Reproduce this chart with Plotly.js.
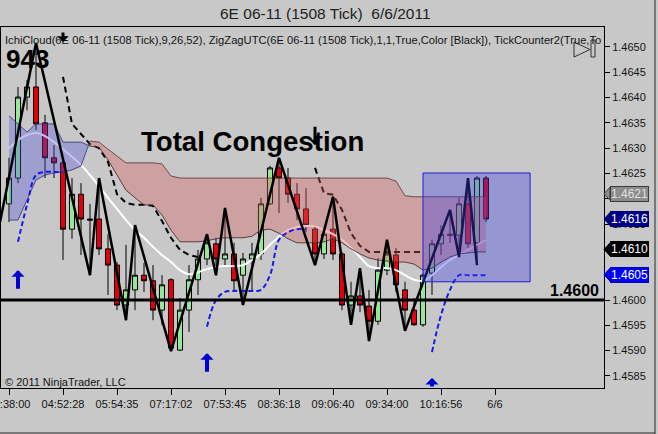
<!DOCTYPE html>
<html><head><meta charset="utf-8">
<script src="https://cdn.plot.ly/plotly-3.0.1.min.js"></script>
<style>html,body{margin:0;padding:0;background:rgb(200,200,200);} #chart{width:658px;height:434px;}</style>
</head><body><div id="chart"></div>
<script>
// ---------- data ----------
const bars = [1,2,3,4,5,6,7,8,9,10,11,12,13,14,15,16,17,18,19,20,21,22,23,24,25,26,27,28,29,30,31,32,33,34,35,36,37,38,39,40,41,42,43,44,45,46,47,48,49,50,51,52,53,54];
const tickBars = [1,7,13,19,25,31,37,43,49,55];
const tickLabels = ["04:38:00","04:52:28","05:54:35","07:17:02","07:53:45","08:36:18","09:06:40","09:34:00","10:16:56","6/6"];
const priceTicks = [1.4585,1.4590,1.4595,1.4600,1.4605,1.4610,1.4615,1.4620,1.4625,1.4630,1.4635,1.4640,1.4645,1.4650];
// tick labels hidden behind the price markers on the right
const priceTickLabels = ["1.4585","1.4590","1.4595","1.4600","","","1.4615","","1.4625","1.4630","1.4635","1.4640","1.4645","1.4650"];

const barOpen = [1.46190,1.46241,1.46401,1.46421,1.46350,1.46281,1.46271,1.46140,1.46209,1.46160,
 1.46160,1.46101,1.46069,1.45990,1.46020,1.46049,1.46038,1.45980,1.46040,1.45901,
 1.45980,1.46040,1.46081,1.46111,1.46081,1.46091,1.46049,1.46081,1.46091,1.46190,
 1.46261,1.46241,1.46209,1.46180,1.46140,1.46091,1.46140,1.46091,1.45990,1.46008,
 1.45988,1.45958,1.46059,1.46089,1.46020,1.45980,1.45951,1.46053,1.46111,1.46130,
 1.46128,1.46190,1.46113,1.46241];
const barHigh = [1.46281,1.46421,1.46435,1.46508,1.46366,1.46306,1.46277,1.46241,1.46231,1.46190,
 1.46241,1.46130,1.46075,1.46109,1.46148,1.46073,1.46069,1.46049,1.46043,1.46004,
 1.46069,1.46099,1.46130,1.46123,1.46182,1.46113,1.46093,1.46113,1.46202,1.46265,
 1.46281,1.46261,1.46231,1.46221,1.46148,1.46140,1.46204,1.46095,1.46036,1.46063,
 1.46020,1.46083,1.46119,1.46103,1.46036,1.46004,1.46053,1.46119,1.46148,1.46178,
 1.46202,1.46241,1.46245,1.46245];
const barLow = [1.46154,1.46231,1.46375,1.46336,1.46241,1.46241,1.46079,1.46121,1.46089,1.46049,
 1.46089,1.46010,1.45980,1.45960,1.45980,1.46016,1.45960,1.45951,1.45899,1.45899,
 1.45937,1.46010,1.46069,1.46049,1.46069,1.46016,1.45990,1.46016,1.46079,1.46188,
 1.46172,1.46192,1.46158,1.46134,1.46069,1.46081,1.46079,1.45980,1.45951,1.45976,
 1.45919,1.45951,1.46049,1.46016,1.45939,1.45949,1.45947,1.46010,1.46089,1.46113,
 1.46085,1.46103,1.46069,1.46154];
const barClose = [1.46241,1.46401,1.46421,1.46348,1.46281,1.46271,1.46140,1.46209,1.46160,1.46158,
 1.46101,1.46069,1.45990,1.46020,1.46049,1.46038,1.45980,1.46030,1.45905,1.45980,
 1.46040,1.46081,1.46113,1.46081,1.46091,1.46038,1.46081,1.46091,1.46190,1.46261,
 1.46241,1.46209,1.46180,1.46148,1.46091,1.46130,1.46091,1.45990,1.46008,1.45990,
 1.45958,1.46059,1.46091,1.46030,1.45980,1.45951,1.46049,1.46111,1.46130,1.46128,
 1.46190,1.46111,1.46241,1.46160];

const spanA = [1.46364,1.46348,1.46332,1.46348,1.46348,1.46348,1.46312,1.46312,1.46312,1.46304,
 1.46302,1.46277,1.46247,1.46217,1.46202,1.46188,1.46188,1.46168,1.46138,1.46115,
 1.46115,1.46115,1.46117,1.46121,1.46123,1.46123,1.46123,1.46126,1.46138,1.46140,
 1.46132,1.46121,1.46113,1.46113,1.46113,1.46115,1.46121,1.46113,1.46101,1.46091,
 1.46083,1.46079,1.46077,1.46075,1.46075,1.46071,1.46059,1.46063,1.46075,1.46085,
 1.46091,1.46093,1.46095,1.46095];
const spanB = [1.46158,1.46158,1.46198,1.46237,1.46247,1.46251,1.46253,1.46257,1.46265,1.46314,
 1.46312,1.46298,1.46285,1.46271,1.46271,1.46271,1.46271,1.46269,1.46245,1.46241,
 1.46241,1.46241,1.46241,1.46241,1.46241,1.46241,1.46241,1.46241,1.46241,1.46241,
 1.46241,1.46241,1.46241,1.46241,1.46241,1.46241,1.46241,1.46241,1.46241,1.46241,
 1.46241,1.46241,1.46241,1.46235,1.46206,1.46204,1.46204,1.46204,1.46204,1.46204,
 1.46204,1.46204,1.46204,1.46204];

const tenkan = [1.46300,1.46316,1.46326,1.46330,1.46324,1.46312,1.46298,1.46283,1.46267,1.46247,
 1.46225,1.46202,1.46180,1.46158,1.46138,1.46123,1.46105,1.46089,1.46075,1.46059,
 1.46051,1.46055,1.46061,1.46065,1.46067,1.46067,1.46069,1.46079,1.46091,1.46109,
 1.46125,1.46138,1.46144,1.46146,1.46146,1.46138,1.46130,1.46119,1.46103,1.46085,
 1.46067,1.46063,1.46063,1.46059,1.46049,1.46040,1.46038,1.46049,1.46065,1.46079,
 1.46089,1.46099,1.46109,1.46119];

const kijun = [null,null,null,null,null,null,1.46441,1.46348,1.46328,1.46308,
 1.46300,1.46273,1.46209,1.46192,1.46188,1.46188,1.46186,1.46156,1.46123,1.46099,
 1.46089,1.46085,null,null,null,null,null,null,null,null,
 null,null,null,null,1.46261,1.46211,1.46208,1.46178,1.46132,1.46107,
 1.46095,1.46095,1.46095,1.46095,1.46095,1.46095,1.46095,null,null,null,
 null,null,null,null];

const stopLine = [null,1.46115,1.46188,1.46247,1.46253,1.46253,1.46253,null,null,null,
 null,null,null,null,null,null,null,null,null,null,
 null,null,1.45947,1.46000,1.46016,1.46018,1.46018,1.46018,1.46020,1.46049,
 1.46119,1.46134,1.46140,1.46140,null,null,null,null,null,null,
 null,null,null,null,null,null,null,1.45897,1.45970,1.46020,
 1.46049,1.46049,1.46049,1.46049];

const zigBars = [0,4,10,11,14,15,19,23,24,25,27,31,35,37,39,40,41,43,45,50,51,52,53];
const zigVals = [1.46154,1.46508,1.46049,1.46241,1.45960,1.46148,1.45899,1.46130,1.46049,1.46182,1.45990,1.46281,1.46069,1.46204,1.45951,1.46063,1.45919,1.46119,1.45939,1.46178,1.46085,1.46241,1.46069];

const upArrowBars = [2,23,48];
const upArrowPrices = [1.46059,1.45895,1.45846];
const downArrowBars = [7,35];
const downArrowPrices = [1.46510,1.46306];

const levelPrice = 1.4600;
const labelPrices = [1.4621,1.4616,1.4610,1.4605];
const labelTexts = ["1.4621","1.4616","1.4610","1.4605"];

// ---------- styles ----------
const BG = 'rgb(200,200,200)';
const labelBg = ['rgb(140,140,140)','rgb(0,0,140)','rgb(0,0,0)','rgb(0,0,255)'];
const labelFg = ['rgb(225,225,225)','white','white','white'];
const labelBorder = ['rgb(60,60,60)','rgb(0,0,90)','rgb(0,0,0)','rgb(0,0,180)'];
const arrowLenUp = [20,20,10];
const arrowLenDown = [11,20];

const traces = [
  {x:bars, y:tenkan, type:'scatter', mode:'lines', line:{color:'white', width:2, shape:'spline'}},
  {x:bars, y:kijun, type:'scatter', mode:'lines', line:{color:'black', width:2, dash:'6px,4px'}},
  {x:bars.slice(0,10), y:spanB.slice(0,10), type:'scatter', mode:'lines', line:{color:'rgba(50,50,110,0.8)', width:1}},
  {x:bars.slice(0,10), y:spanA.slice(0,10), type:'scatter', mode:'lines', fill:'tonexty', fillcolor:'rgba(80,80,220,0.34)', line:{color:'rgba(50,50,110,0.8)', width:1}},
  {x:bars.slice(9), y:spanB.slice(9), type:'scatter', mode:'lines', line:{color:'rgba(90,50,50,0.8)', width:1}},
  {x:bars.slice(9), y:spanA.slice(9), type:'scatter', mode:'lines', fill:'tonexty', fillcolor:'rgba(215,95,95,0.37)', line:{color:'rgba(70,40,40,0.85)', width:1}},
  {x:bars, y:stopLine, type:'scatter', mode:'lines', line:{color:'rgb(25,25,235)', width:2, dash:'5px,3px', shape:'spline'}},
  {type:'candlestick', x:bars, open:barOpen, high:barHigh, low:barLow, close:barClose, whiskerwidth:0,
   increasing:{line:{color:'black', width:1}, fillcolor:'rgb(150,232,150)'},
   decreasing:{line:{color:'black', width:1}, fillcolor:'rgb(228,0,10)'}},
  {x:zigBars, y:zigVals, type:'scatter', mode:'lines', line:{color:'black', width:2.5}}
];

const pxX = p => (p-1)/603;       // pixel -> paper x
const pxY = p => (388-p)/361;     // pixel -> paper y
const pricePerPx = (1.465395-1.458261)/361;

const annotations = [
  {xref:'paper', yref:'paper', x:pxX(325), y:pxY(14), text:'6E 06-11 (1508 Tick)\u00a0 6/6/2011', showarrow:false, xanchor:'center', yanchor:'middle', font:{size:15.5, color:'rgb(30,30,30)'}},
  {xref:'paper', yref:'paper', x:pxX(3), y:pxY(40), text:'IchiCloud(6E 06-11 (1508 Tick),9,26,52), ZigZagUTC(6E 06-11 (1508 Tick),1,1,True,Color [Black]), TickCounter2(True,To', showarrow:false, xanchor:'left', yanchor:'middle', font:{size:11.2, color:'rgb(20,20,20)'}},
  {xref:'paper', yref:'paper', x:pxX(4), y:pxY(59), text:'943', showarrow:false, xanchor:'left', yanchor:'middle', font:{size:26, weight:'bold', color:'black'}},
  {xref:'paper', yref:'paper', x:pxX(139), y:pxY(141), text:'Total Congestion', showarrow:false, xanchor:'left', yanchor:'middle', font:{size:27.6, weight:'bold', color:'black'}},
  {xref:'paper', yref:'paper', x:pxX(601), y:pxY(290), text:'1.4600', showarrow:false, xanchor:'right', yanchor:'middle', font:{size:16, weight:'bold', color:'black'}},
  {xref:'paper', yref:'paper', x:pxX(3), y:pxY(382), text:'\u00a9 2011 NinjaTrader, LLC', showarrow:false, xanchor:'left', yanchor:'middle', font:{size:11, color:'rgb(20,20,20)'}}
];
labelPrices.forEach((p,i) => {
  annotations.push({xref:'paper', yref:'y', x:1, y:p, xshift:6, xanchor:'left', yanchor:'middle', text:labelTexts[i], showarrow:false,
    bgcolor:labelBg[i], bordercolor:labelBorder[i], borderwidth:1, borderpad:0, font:{size:12, color:labelFg[i]}});
});
upArrowBars.forEach((b,i) => {
  annotations.push({x:b, y:upArrowPrices[i], ax:0, ay:arrowLenUp[i], text:'', showarrow:true, arrowhead:1, arrowsize:0.55, arrowwidth:4, arrowcolor:'rgb(0,0,210)', standoff:0});
});
downArrowBars.forEach((b,i) => {
  annotations.push({x:b, y:downArrowPrices[i], ax:0, ay:-arrowLenDown[i], text:'', showarrow:true, arrowhead:1, arrowsize:0.6, arrowwidth:3, arrowcolor:'black', standoff:0});
});

const shapes = [
  {type:'line', xref:'paper', yref:'y', x0:0, x1:1, y0:levelPrice, y1:levelPrice, line:{color:'black', width:3}, layer:'above'},
  {type:'rect', xref:'x', yref:'y', x0:47, x1:58.9, y0:1.46036, y1:1.46251, line:{color:'rgb(30,30,215)', width:1}, fillcolor:'rgba(60,60,230,0.36)', layer:'above'},
  {type:'path', xref:'paper', yref:'paper', path:`M${pxX(574)},${pxY(42)} L${pxX(590)},${pxY(49.5)} L${pxX(574)},${pxY(57)} Z`, line:{color:'rgb(50,50,50)', width:1}, fillcolor:'rgba(0,0,0,0)', layer:'above'},
  {type:'rect', xref:'paper', yref:'paper', x0:pxX(591), x1:pxX(595), y0:pxY(57), y1:pxY(40), line:{color:'rgb(50,50,50)', width:1}, fillcolor:'rgba(0,0,0,0)', layer:'above'},
  {type:'line', xref:'paper', yref:'paper', x0:pxX(655), x1:pxX(655), y0:pxY(434), y1:pxY(0), line:{color:'rgb(40,40,40)', width:1}},
  {type:'line', xref:'paper', yref:'paper', x0:pxX(0), x1:pxX(655), y0:pxY(433), y1:pxY(433), line:{color:'rgb(40,40,40)', width:1}}
];
labelPrices.forEach((p,i) => {
  shapes.push({type:'path', xref:'paper', yref:'y', path:`M1,${p} L${1+6/603},${p+6.5*pricePerPx} L${1+6/603},${p-6.5*pricePerPx} Z`, line:{color:labelBorder[i], width:1}, fillcolor:labelBg[i], layer:'above'});
});

const layout = {
  width:658, height:434,
  margin:{l:1, r:54, t:27, b:46, pad:0},
  paper_bgcolor:BG, plot_bgcolor:BG,
  showlegend:false,
  font:{family:'Liberation Sans, Arial, sans-serif', size:11, color:'rgb(20,20,20)'},
  boxgap:0.2, boxgroupgap:0.3,
  xaxis:{range:[1/9, 604/9], showgrid:false, zeroline:false, showline:true, mirror:true, linecolor:'black', linewidth:1,
    ticks:'outside', ticklen:6, tickcolor:'black', tickvals:tickBars, ticktext:tickLabels, rangeslider:{visible:false}, fixedrange:true,
    ticklabeloverflow:'allow', tickfont:{size:11, color:'rgb(20,20,20)'}},
  yaxis:{side:'right', range:[1.458261, 1.465395], showgrid:false, zeroline:false, showline:true, mirror:true, linecolor:'black', linewidth:1,
    ticks:'outside', ticklen:5, tickcolor:'black', tickvals:priceTicks, ticktext:priceTickLabels, fixedrange:true,
    tickfont:{size:11, color:'rgb(20,20,20)'}},
  shapes:shapes,
  annotations:annotations
};

Plotly.newPlot('chart', traces, layout, {staticPlot:true, displayModeBar:false});
</script>
</body></html>
